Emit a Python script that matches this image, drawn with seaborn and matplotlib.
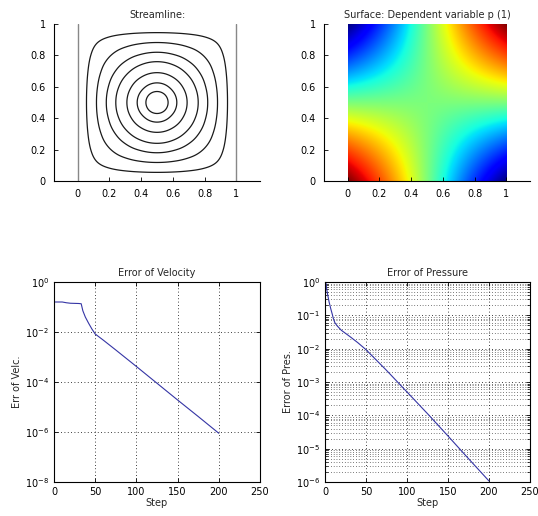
import numpy as np
import pandas as pd
import seaborn as sns
import matplotlib
matplotlib.use("Agg")
import matplotlib.pyplot as plt
from matplotlib.ticker import NullFormatter, FixedLocator

sns.set_style("white")
plt.rcParams["font.family"] = ["DejaVu Sans"]

# stream function profile across the cavity (read at x = 0, 0.05, ..., 1)
profile_x = np.linspace(0, 1, 21)
stream_profile = [0.0, 0.35, 0.55, 0.68, 0.77, 0.84, 0.895, 0.94, 0.972, 0.993, 1.0,
                  0.993, 0.972, 0.94, 0.895, 0.84, 0.77, 0.68, 0.55, 0.35, 0.0]
# where each streamline crosses the horizontal mid-line
ring_x = [0.055, 0.118, 0.18, 0.24, 0.31, 0.375, 0.43]

# pressure profile (read at x = 0, 0.1, ..., 1); surface = profile(x) * profile(y)
pres_x = np.linspace(0, 1, 11)
pres_profile = [-1.0, -0.84, -0.66, -0.46, -0.24, 0.0, 0.24, 0.46, 0.66, 0.84, 1.0]

# convergence histories (log10 of error)
vel_step = [1, 10, 15, 20, 30, 33, 35, 38, 42, 46, 50, 60, 75, 100, 125, 150, 175, 200]
vel_log = [-0.80, -0.80, -0.83, -0.85, -0.86, -0.87, -1.15, -1.40, -1.65, -1.88, -2.08,
           -2.33, -2.72, -3.38, -4.05, -4.72, -5.38, -6.05]
pres_step = [1, 2, 3, 5, 7, 9, 10, 12, 15, 20, 30, 40, 50, 75, 100, 125, 150, 175, 200]
pres_log = [0.0, -0.2, -0.35, -0.6, -0.8, -0.98, -1.08, -1.22, -1.32, -1.45, -1.63, -1.82,
            -2.03, -2.65, -3.30, -3.95, -4.62, -5.30, -5.97]

unit_ticks = [0, 0.2, 0.4, 0.6, 0.8, 1]
unit_labels = ["0", "0.2", "0.4", "0.6", "0.8", "1"]
step_ticks = [0, 50, 100, 150, 200, 250]
vel_decades = [1e-8, 1e-6, 1e-4, 1e-2, 1]
pres_decades = [1e-6, 1e-5, 1e-4, 1e-3, 1e-2, 1e-1, 1]


def smooth_interp(xq, xp, fp):
    # cubic Hermite through the read profile values
    xp = np.asarray(xp, float)
    fp = np.asarray(fp, float)
    m = np.gradient(fp, xp)
    i = np.clip(np.searchsorted(xp, xq) - 1, 0, len(xp) - 2)
    h = xp[i + 1] - xp[i]
    t = (xq - xp[i]) / h
    h00 = 2 * t**3 - 3 * t**2 + 1
    h10 = t**3 - 2 * t**2 + t
    h01 = -2 * t**3 + 3 * t**2
    h11 = t**3 - t**2
    return h00 * fp[i] + h10 * h * m[i] + h01 * fp[i + 1] + h11 * h * m[i + 1]


fig = plt.figure(figsize=(5.38, 5.16), dpi=100)
W, H = 538, 516


def add_axes(x0, y0, x1, y1):
    return fig.add_axes([x0 / W, 1 - y1 / H, (x1 - x0) / W, (y1 - y0) / H])


def style_top(ax, title):
    ax.set_xlim(-0.15, 1.15)
    ax.set_ylim(0, 1)
    ax.set_xticks(unit_ticks)
    ax.set_xticklabels(unit_labels)
    ax.set_yticks(unit_ticks)
    ax.set_yticklabels(unit_labels)
    for s in ["top", "right"]:
        ax.spines[s].set_visible(False)
    for s in ["left", "bottom"]:
        ax.spines[s].set_color("black")
        ax.spines[s].set_linewidth(0.8)
    ax.tick_params(direction="in", length=3, width=0.6, labelsize=7, pad=6,
                   colors="black", left=True, bottom=True)
    ax.set_title(title, fontsize=7, pad=4)


# --- Streamline
ax1 = add_axes(54, 24, 260, 181)
xf = np.linspace(0, 1, 401)
hx = smooth_interp(xf, profile_x, stream_profile)
psi = np.outer(hx, hx)
levels = np.sort(smooth_interp(np.array(ring_x), profile_x, stream_profile))
ax1.contour(xf, xf, psi, levels=levels, colors="#1a1a1a", linewidths=0.9)
ax1.plot([0, 0], [0, 1], color="#888888", lw=1.0)
ax1.plot([1, 1], [0, 1], color="#888888", lw=1.0)
style_top(ax1, "Streamline:")

# --- Pressure surface
ax2 = add_axes(324, 24, 530, 181)
gx = smooth_interp(xf, pres_x, pres_profile)
p = np.outer(gx, gx)
ax2.imshow(p, extent=[0, 1, 0, 1], origin="lower", cmap="jet", aspect="auto",
           interpolation="bilinear", vmin=-1, vmax=1)
style_top(ax2, "Surface: Dependent variable p (1)")

line_color = "#3535a5"
dot = (0, (1, 3))


def style_bottom(ax, title, ylabel):
    ax.set_xlim(0, 250)
    ax.set_xticks(step_ticks)
    for s in ax.spines.values():
        s.set_visible(True)
        s.set_color("black")
        s.set_linewidth(0.8)
    ax.tick_params(which="both", direction="in", labelsize=7, colors="black",
                   top=True, right=True, left=True, bottom=True)
    ax.tick_params(which="major", length=3, width=0.6)
    ax.tick_params(which="minor", length=2, width=0.5)
    ax.set_title(title, fontsize=7, pad=4)
    ax.set_xlabel("Step", fontsize=7, labelpad=1)
    ax.set_ylabel(ylabel, fontsize=7, labelpad=2)


# --- Error of velocity
ax3 = add_axes(54, 282, 260, 482)
vel = pd.DataFrame({"step": vel_step, "err": np.power(10.0, vel_log)})
sns.lineplot(data=vel, x="step", y="err", ax=ax3, color=line_color, lw=0.8)
ax3.set_yscale("log")
ax3.set_ylim(1e-8, 1)
ax3.yaxis.set_major_locator(FixedLocator(vel_decades))
ax3.yaxis.set_minor_locator(FixedLocator([]))
ax3.grid(True, which="major", color="black", linestyle=dot, lw=0.6)
style_bottom(ax3, "Error of Velocity", "Err of Velc.")

# --- Error of pressure
ax4 = add_axes(325, 282, 530, 482)
pres = pd.DataFrame({"step": pres_step, "err": np.power(10.0, pres_log)})
sns.lineplot(data=pres, x="step", y="err", ax=ax4, color=line_color, lw=0.8)
ax4.set_yscale("log")
ax4.set_ylim(1e-6, 1)
ax4.yaxis.set_major_locator(FixedLocator(pres_decades))
minor = [k * d for d in pres_decades[:-1] for k in range(2, 10)]
ax4.yaxis.set_minor_locator(FixedLocator(minor))
ax4.yaxis.set_minor_formatter(NullFormatter())
ax4.grid(True, which="major", color="black", linestyle=dot, lw=0.6)
ax4.grid(True, which="minor", axis="y", color="black", linestyle=dot, lw=0.5)
style_bottom(ax4, "Error of Pressure", "Error of Pres.")

fig.savefig("out.png", dpi=100)
